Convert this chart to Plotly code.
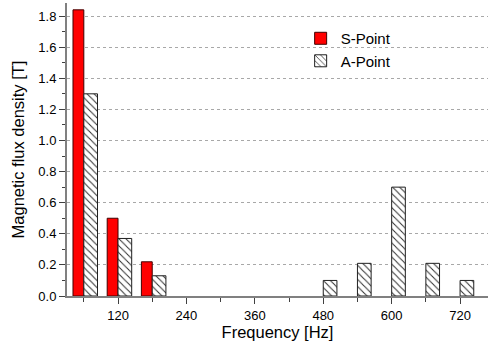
import plotly.graph_objects as go

# Data
freq_s = [60, 120, 180]
s_point = [1.84, 0.50, 0.22]

freq_a = [60, 120, 180, 240, 300, 360, 420, 480, 540, 600, 660, 720]
a_point = [1.30, 0.37, 0.13, 0.0, 0.0, 0.0, 0.0, 0.10, 0.21, 0.70, 0.21, 0.10]

x_ticks = [120, 240, 360, 480, 600, 720]
y_ticks = [0.0, 0.2, 0.4, 0.6, 0.8, 1.0, 1.2, 1.4, 1.6, 1.8]

FONT = "Liberation Sans, Arial, sans-serif"

fig = go.Figure()
fig.add_trace(go.Bar(
    x=freq_s, y=s_point, name="S-Point",
    width=19, offset=-19,
    marker=dict(color="#ff0000", line=dict(color="#400000", width=1)),
))
fig.add_trace(go.Bar(
    x=freq_a, y=a_point, name="A-Point",
    width=24, offset=0,
    marker=dict(color="white",
                line=dict(color="#202020", width=[1 if v > 0 else 0 for v in a_point]),
                pattern=dict(shape="\\", fgcolor="#303030", bgcolor="white",
                             size=5, solidity=0.2, fillmode="replace")),
))

fig.update_layout(
    width=488, height=342,
    margin=dict(l=67, r=0, t=3, b=46),
    paper_bgcolor="white", plot_bgcolor="white",
    font=dict(family=FONT, size=13, color="black"),
    barmode="overlay",
    showlegend=True,
    legend=dict(x=0.555, y=0.935, xanchor="left", yanchor="top",
                font=dict(family=FONT, size=15, color="black"),
                bgcolor="rgba(0,0,0,0)", tracegroupgap=2, itemwidth=30),
    xaxis=dict(
        range=[30.5, 769], tickvals=x_ticks, ticktext=[str(v) for v in x_ticks],
        showgrid=False, zeroline=False,
        showline=True, linecolor="#808080", linewidth=2,
        ticks="outside", ticklen=6, tickcolor="#404040", tickwidth=1,
        minor=dict(dtick=60, tick0=0, ticks="outside", ticklen=4, tickcolor="#404040"),
        title=dict(text="Frequency [Hz]", font=dict(family=FONT, size=16.5), standoff=4),
        tickfont=dict(family=FONT, size=13),
    ),
    yaxis=dict(
        range=[0, 1.884], tickvals=y_ticks, tickformat=".1f",
        showgrid=True, gridcolor="#a8a8a8", griddash="dot", gridwidth=1,
        zeroline=False,
        showline=True, linecolor="#808080", linewidth=2,
        ticks="outside", ticklen=6, tickcolor="#404040", tickwidth=1,
        minor=dict(dtick=0.1, tick0=0, ticks="outside", ticklen=3, tickcolor="#404040", showgrid=False),
        title=dict(text="Magnetic flux density [T]", font=dict(family=FONT, size=16.5), standoff=10),
        tickfont=dict(family=FONT, size=13),
    ),
)

fig.write_html("out.html", config={"displayModeBar": False},
               post_script="document.body.style.margin='0';document.body.style.overflow='hidden';")
